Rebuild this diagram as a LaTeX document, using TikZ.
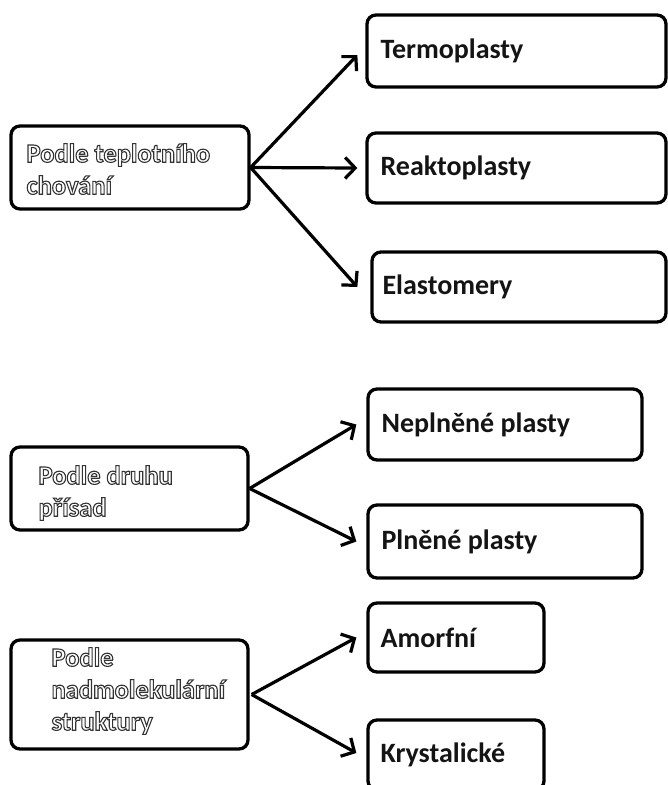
\documentclass[tikz,border=0pt]{standalone}
\usepackage{fontspec}
\setmainfont{Carlito}
\usetikzlibrary{arrows.meta}
\newcommand\olw[1]{\textcolor{white}{\special{pdf:literal direct 2 Tr 1.1 w 0.2 G}#1\special{pdf:literal direct 0 Tr}}}
\tikzset{
  box/.style={draw=black, line width=3.3pt, rounded corners=9pt, inner sep=0pt, fill=white},
  rtxt/.style={anchor=west, inner sep=0pt, font=\fontsize{28}{32}\selectfont\bfseries, text=black!92},
  ltxt/.style={anchor=west, inner sep=0pt, align=left, font=\fontsize{26.5}{32}\selectfont\bfseries},
  arr/.style={line width=3.2pt, -{Straight Barb[length=10pt,width=21pt]}},
}
\begin{document}
\begin{tikzpicture}[x=1pt,y=-1pt]
\useasboundingbox[fill=white] (0,0) rectangle (668,785);
\begin{scope}
\clip (0,0) rectangle (668,785);
% left boxes
\node[box, minimum width=238pt, minimum height=83pt] (L1) at (130,167.5) {};
\node[box, minimum width=237pt, minimum height=83pt] (L2) at (129.5,488.5) {};
\node[box, minimum width=237pt, minimum height=109pt] (L3) at (129.5,694.5) {};
% right boxes
\node[box, minimum width=299pt, minimum height=72pt] (T) at (516.5,51) {};
\node[box, minimum width=299pt, minimum height=70pt] (R) at (516.5,168) {};
\node[box, minimum width=294pt, minimum height=70pt] (E) at (519,287) {};
\node[box, minimum width=274pt, minimum height=71pt] (N) at (505,424.5) {};
\node[box, minimum width=274pt, minimum height=73pt] (P) at (505,541.5) {};
\node[box, minimum width=176pt, minimum height=69pt] (A) at (456,637.5) {};
\node[box, minimum width=176pt, minimum height=70pt] (K) at (456,755) {};
% texts
\node[ltxt] (L1t) at ([xshift=17pt,yshift=-1.5pt]L1.west) {\olw{Podle teplotního}\\\olw{chování}};
\node[ltxt] (L2t) at ([xshift=29pt,yshift=-4.5pt]L2.west) {\olw{Podle druhu}\\\olw{přísad}};
\node[ltxt] (L3t) at ([xshift=42pt,yshift=3.5pt]L3.west) {\olw{Podle}\\\olw{nadmolekulární}\\\olw{struktury}};
\node[rtxt] (Tt) at ([xshift=15pt]T.west) {Termoplasty};
\node[rtxt] (Rt) at ([xshift=15pt]R.west) {Reaktoplasty};
\node[rtxt] (Et) at ([xshift=12pt]E.west) {Elastomery};
\node[rtxt] (Nt) at ([xshift=15pt]N.west) {Neplněné plasty};
\node[rtxt] (Pt) at ([xshift=15pt]P.west) {Plněné plasty};
\node[rtxt] (At) at ([xshift=14pt]A.west) {Amorfní};
\node[rtxt] (Kt) at ([xshift=14pt]K.west) {Krystalické};
% arrows
\draw[arr] (L1.east) -- ([xshift=-8pt,yshift=-4pt]T.west);
\draw[arr] (L1.east) -- ([xshift=-8pt]R.west);
\draw[arr] (L1.east) -- ([xshift=-13pt]E.west);
\draw[arr] (L2.east) -- ([xshift=-10pt]N.west);
\draw[arr] (L2.east) -- ([xshift=-10pt]P.west);
\draw[arr] ([xshift=2pt]L3.east) -- ([xshift=-10pt]A.west);
\draw[arr] ([xshift=2pt]L3.east) -- ([xshift=-10pt,yshift=2pt]K.west);
\end{scope}
\end{tikzpicture}
\end{document}
